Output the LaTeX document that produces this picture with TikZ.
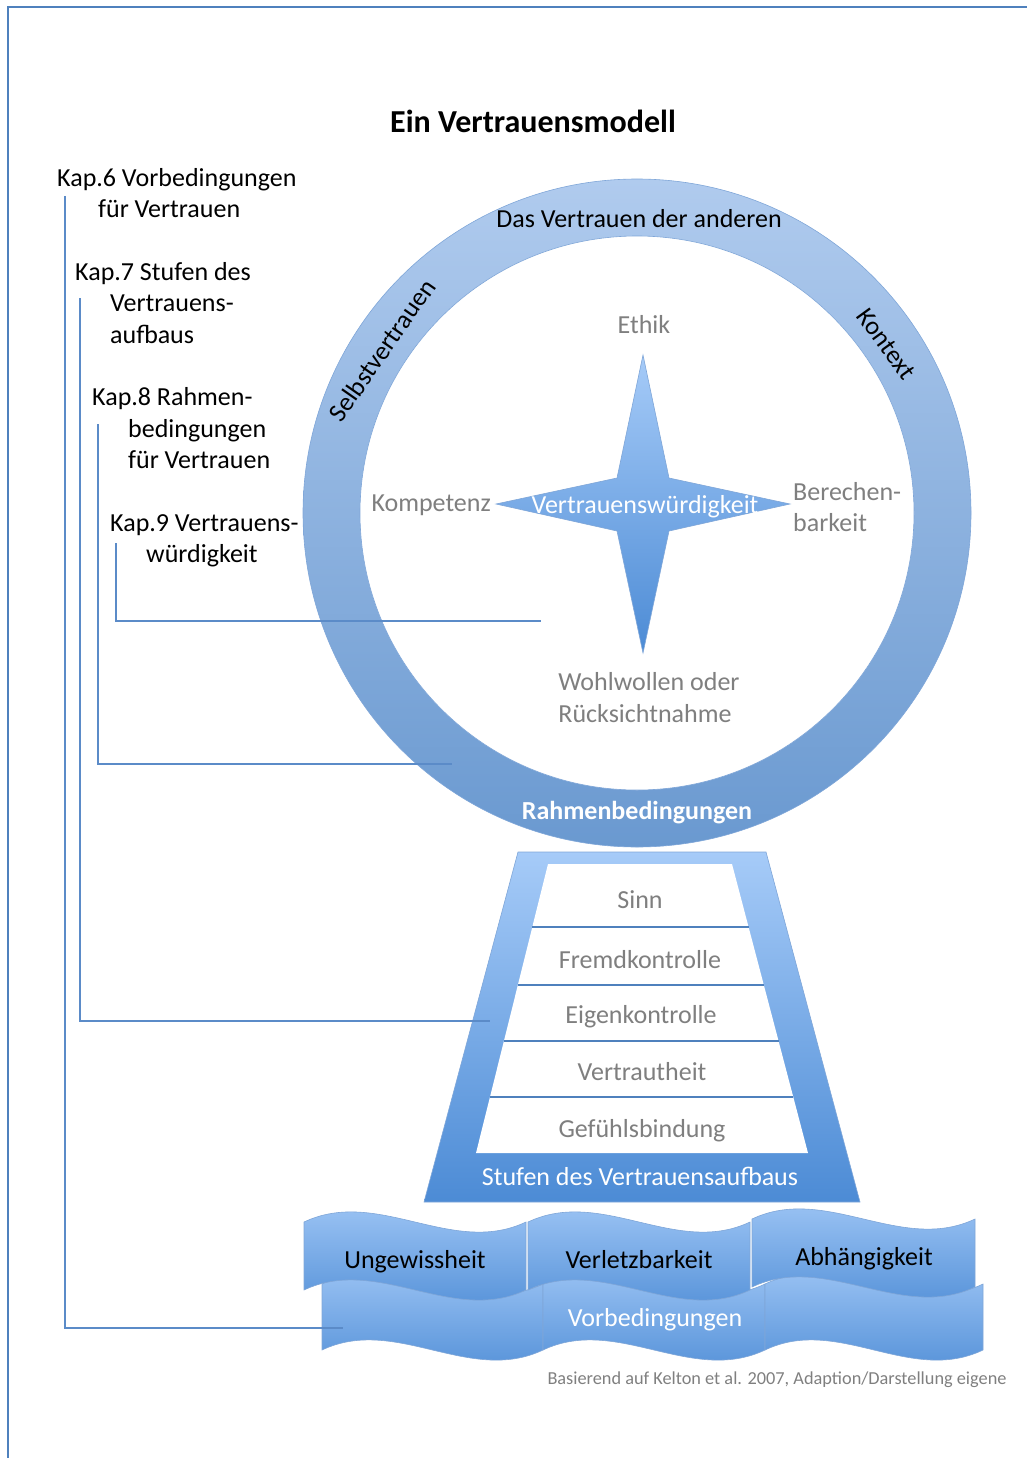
\documentclass[tikz,border=0pt]{standalone}
\usepackage{fontspec}
\setmainfont{Carlito}
\definecolor{rahmen}{HTML}{4F81BD}
\definecolor{ringhell}{HTML}{B0CBEE}
\definecolor{ringdunkel}{HTML}{6A99D0}
\definecolor{blauhell}{HTML}{A6CBF8}
\definecolor{blaudunkel}{HTML}{4C8BD5}
\definecolor{umriss}{HTML}{7FA6D8}
\definecolor{textgrau}{HTML}{7F7F7F}
\definecolor{linie}{HTML}{5B8BC8}
\tikzset{
  txt/.style={inner sep=0pt, font=\fontsize{26}{31}\selectfont},
  grautxt/.style={txt, text=textgrau},
  weisstxt/.style={txt, text=white},
  kapline/.style={draw=linie, line width=2.5pt},
  blauflaeche/.style={top color=blauhell, bottom color=blaudunkel, draw=umriss, line width=0.6pt},
  stufenlinie/.style={draw=rahmen, line width=2.5pt},
}
\begin{document}
\begin{tikzpicture}[x=1pt,y=-1pt]
  \useasboundingbox (0,0) rectangle (1027,1458);
  % Rahmen
  \draw[rahmen, line width=2pt] (8,1458) -- (8,7) -- (1027,7);
  \node[txt, font=\fontsize{32}{38}\selectfont\bfseries, anchor=base] (titel) at (533,133) {Ein Vertrauensmodell};
  % Ring
  \shade[top color=ringhell, bottom color=ringdunkel, draw=umriss, line width=0.6pt] (637,513) circle[radius=334pt];
  \filldraw[fill=white, draw=umriss, line width=0.6pt] (637,513) circle[radius=277pt];
  \node[txt, anchor=base] (anderen) at (639,227) {Das Vertrauen der anderen};
  \node[txt, rotate=55] (selbst) at (382,350) {Selbstvertrauen};
  \node[txt, rotate=-54] (kontext) at (886,344) {Kontext};
  \node[weisstxt, font=\fontsize{26}{31}\selectfont\bfseries, anchor=base] (rahmenbed) at (637,819) {Rahmenbedingungen};
  % Stern
  \shade[blauflaeche] (643,355) -- (669,478) -- (790,504) -- (669,531) -- (643,653) -- (617,531) -- (496,504) -- (617,478) -- cycle;
  \node[weisstxt, anchor=base] (wuerdig) at (645,513) {Vertrauenswürdigkeit};
  \node[grautxt, anchor=base] (ethik) at (644,333) {Ethik};
  \node[grautxt, anchor=base east] (kompetenz) at (491,511) {Kompetenz};
  \node[grautxt, anchor=base west] (berechen) at (793,500) {Berechen-};
  \node[grautxt, anchor=base west] (barkeit) at (793,531) {barkeit};
  \node[grautxt, anchor=base] (wohlwollen) at (649,690) {Wohlwollen oder};
  \node[grautxt, anchor=base] (ruecksicht) at (645,722) {Rücksichtnahme};
  % Stufen
  \shade[blauflaeche] (518,852) -- (766,852) -- (860,1202) -- (424,1202) -- cycle;
  \fill[white] (548,864) -- (732,864) -- (808,1153) -- (476,1153) -- cycle;
  \draw[stufenlinie] (532,927) -- (749,927) (518,985) -- (764,985) (504,1041) -- (779,1041) (490,1097) -- (793,1097);
  \node[grautxt, anchor=base] (sinn) at (640,908) {Sinn};
  \node[grautxt, anchor=base] (fremd) at (640,968) {Fremdkontrolle};
  \node[grautxt, anchor=base] (eigen) at (641,1023) {Eigenkontrolle};
  \node[grautxt, anchor=base] (vertraut) at (642,1080) {Vertrautheit};
  \node[grautxt, anchor=base] (gefuehl) at (642,1137) {Gefühlsbindung};
  \node[weisstxt, anchor=base] (stufen) at (640,1185) {Stufen des Vertrauensaufbaus};
  % Vorbedingungen
  \shade[blauflaeche] (322,1284) .. controls (396,1249) and (469,1319) .. (543,1284) -- (543,1350) .. controls (469,1385) and (396,1315) .. (322,1350) -- cycle;
  \shade[blauflaeche] (543,1284) .. controls (617,1249) and (691,1319) .. (765,1284) -- (765,1350) .. controls (691,1385) and (617,1315) .. (543,1350) -- cycle;
  \shade[blauflaeche] (765,1284) .. controls (838,1249) and (910,1319) .. (983,1284) -- (983,1350) .. controls (910,1385) and (838,1315) .. (765,1350) -- cycle;
  \shade[blauflaeche] (304,1222) .. controls (378,1187) and (452,1257) .. (526,1222) -- (526,1290) .. controls (452,1325) and (378,1255) .. (304,1290) -- cycle;
  \shade[blauflaeche] (528,1222) .. controls (602,1187) and (676,1257) .. (750,1222) -- (750,1290) .. controls (676,1325) and (602,1255) .. (528,1290) -- cycle;
  \shade[blauflaeche] (752,1219) .. controls (826,1184) and (901,1254) .. (975,1219) -- (975,1287) .. controls (901,1322) and (826,1252) .. (752,1287) -- cycle;
  \node[txt, anchor=base] (ungewiss) at (415,1268) {Ungewissheit};
  \node[txt, anchor=base] (verletz) at (639,1268) {Verletzbarkeit};
  \node[txt, anchor=base] (abhaengig) at (864,1265) {Abhängigkeit};
  \node[weisstxt, anchor=base] (vorbed) at (655,1326) {Vorbedingungen};
  \node[grautxt, font=\fontsize{18.3}{22}\selectfont, anchor=base] (quelle) at (777,1384) {Basierend auf Kelton et al. 2007, Adaption/Darstellung eigene};
  % Kapitel
  \node[txt, anchor=base west] (kap6) at (57,186) {Kap.6 Vorbedingungen};
  \node[txt, anchor=base west] (kap6b) at (98,217) {für Vertrauen};
  \node[txt, anchor=base west] (kap7) at (75,280) {Kap.7 Stufen des};
  \node[txt, anchor=base west] (kap7b) at (110,311) {Vertrauens-};
  \node[txt, anchor=base west] (kap7c) at (110,343) {aufbaus};
  \node[txt, anchor=base west] (kap8) at (92,405) {Kap.8 Rahmen-};
  \node[txt, anchor=base west] (kap8b) at (128,437) {bedingungen};
  \node[txt, anchor=base west] (kap8c) at (128,468) {für Vertrauen};
  \node[txt, anchor=base west] (kap9) at (110,531) {Kap.9 Vertrauens-};
  \node[txt, anchor=base west] (kap9b) at (146,562) {würdigkeit};
  \coordinate (k6s) at (65,196);  \coordinate (k6e) at (343,1328);
  \coordinate (k7s) at (80,298);  \coordinate (k7e) at (490,1021);
  \coordinate (k8s) at (98,424);  \coordinate (k8e) at (452,764);
  \coordinate (k9s) at (116,543); \coordinate (k9e) at (541,621);
  \draw[kapline] (k6s) |- (k6e);
  \draw[kapline] (k7s) |- (k7e);
  \draw[kapline] (k8s) |- (k8e);
  \draw[kapline] (k9s) |- (k9e);
\end{tikzpicture}
\end{document}
